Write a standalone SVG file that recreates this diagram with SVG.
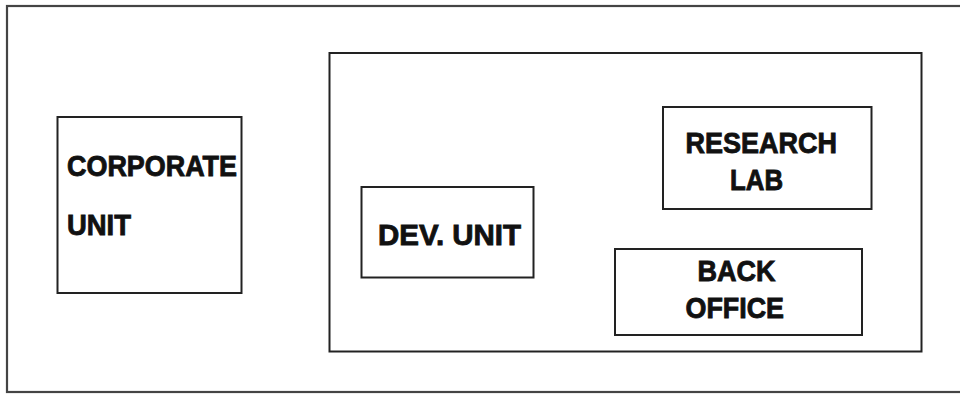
<svg xmlns="http://www.w3.org/2000/svg" width="960" height="394" viewBox="0 0 960 394">
<style>
.box{fill:none;stroke:#222;stroke-width:2}
.frame{fill:none;stroke:#444;stroke-width:2.2}
.lbl{font-family:"Liberation Sans Narrow","Liberation Sans","DejaVu Sans Condensed",sans-serif;font-weight:bold;font-size:30px;fill:#111;stroke:#111;stroke-width:0.9}
</style>
<rect width="960" height="394" fill="#fff"/>
<g id="frame"><rect class="frame" x="7" y="6" width="970" height="386"/></g>
<g id="container"><rect class="box" x="329.5" y="53" width="592" height="298.5"/></g>
<g id="corporate-unit">
<rect class="box" x="57.5" y="117" width="184" height="176"/>
<text class="lbl" x="67" y="176" textLength="170" lengthAdjust="spacingAndGlyphs">CORPORATE</text>
<text class="lbl" x="67" y="235" textLength="64" lengthAdjust="spacingAndGlyphs">UNIT</text>
</g>
<g id="dev-unit">
<rect class="box" x="361.5" y="187" width="172" height="90.5"/>
<text class="lbl" x="378" y="245" textLength="143" lengthAdjust="spacingAndGlyphs">DEV. UNIT</text>
</g>
<g id="research-lab">
<rect class="box" x="663" y="107" width="208.5" height="102"/>
<text class="lbl" x="685.5" y="153" textLength="151.5" lengthAdjust="spacingAndGlyphs">RESEARCH</text>
<text class="lbl" x="730" y="190" textLength="53" lengthAdjust="spacingAndGlyphs">LAB</text>
</g>
<g id="back-office">
<rect class="box" x="615" y="249" width="247" height="86"/>
<text class="lbl" x="697.5" y="281" textLength="78" lengthAdjust="spacingAndGlyphs">BACK</text>
<text class="lbl" x="685.5" y="318" textLength="98.5" lengthAdjust="spacingAndGlyphs">OFFICE</text>
</g>
<g id="connectors"></g>
</svg>
